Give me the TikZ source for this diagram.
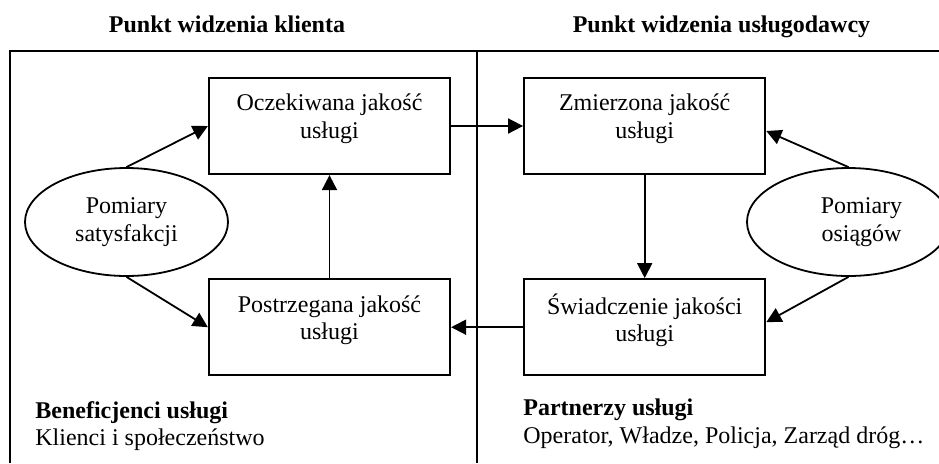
\documentclass[tikz,border=0pt]{standalone}
\usepackage{fontspec}
\setmainfont{Liberation Serif}
\usetikzlibrary{arrows.meta,positioning,shapes.geometric}

\newcommand{\tekst}{\fontsize{12pt}{13.8pt}\selectfont}

\begin{document}
\begin{tikzpicture}[
    x=0.5pt, y=-0.5pt,
    font=\tekst,
    node distance=51.5pt and 36pt,
    kwadrat/.style={draw, line width=1.1pt, minimum width=120.5pt, minimum height=48pt},
    owal/.style={draw, ellipse, line width=0.9pt, minimum width=101.5pt, minimum height=54pt},
    napis/.style={align=center, font=\tekst},
    rel/.style={-{Triangle[length=7.5pt, width=7.5pt]}, line width=0.9pt},
    tytul/.style={font=\tekst\bfseries, anchor=base},
    opis/.style={anchor=base west, inner sep=0pt}
]

\useasboundingbox (0,0) rectangle (939,463);

% ramka
\draw[line width=1pt] (10,463) -- (10,50.5) -- (939,50.5);
\draw[line width=1pt] (477,50.5) -- (477,463);

\node[tytul] (klient) at (227,32) {Punkt widzenia klienta};
\node[tytul] (uslugod) at (721.5,32) {Punkt widzenia usługodawcy};

\node[kwadrat, label={[napis, yshift=3.5pt]center:Oczekiwana jakość\\usługi}] (oczek) at (329.5,126) {};
\node[kwadrat, right=of oczek, label={[napis, yshift=3.5pt]center:Zmierzona jakość\\usługi}] (zmierz) {};
\node[kwadrat, below=of oczek, label={[napis, yshift=3.5pt]center:Postrzegana jakość\\usługi}] (postrz) {};
\node[kwadrat, below=of zmierz, label={[napis, yshift=3.5pt]center:Świadczenie jakości\\usługi}] (swiadcz) {};

\node[owal, label={[napis]center:Pomiary\\satysfakcji}] (satysf) at (126.5,222) {};
\node[owal, label={[napis, xshift=6.5pt]center:Pomiary\\osiągów}] (osiagi) at (848.5,222) {};

\draw[rel] (satysf.north) -- (oczek.west);
\draw[rel] (satysf.south) -- (postrz.west);
\draw[rel] (postrz.north) -- (oczek.south);
\draw[rel] (oczek.east) -- (zmierz.west);
\draw[rel] (zmierz.south) -- (swiadcz.north);
\draw[rel] (swiadcz.west) -- (postrz.east);
\draw[rel] (osiagi.north) -- ([yshift=-2.5pt]zmierz.east);
\draw[rel] (osiagi.south) -- ([yshift=2.5pt]swiadcz.east);

\node[opis, font=\tekst\bfseries] (benef) at (35,418) {Beneficjenci usługi};
\node[opis] (klienci) at (35,445) {Klienci i społeczeństwo};
\node[opis, font=\tekst\bfseries] (partn) at (523,415) {Partnerzy usługi};
\node[opis] (operator) at (523,443) {Operator, Władze, Policja, Zarząd dróg…};
\end{tikzpicture}
\end{document}
